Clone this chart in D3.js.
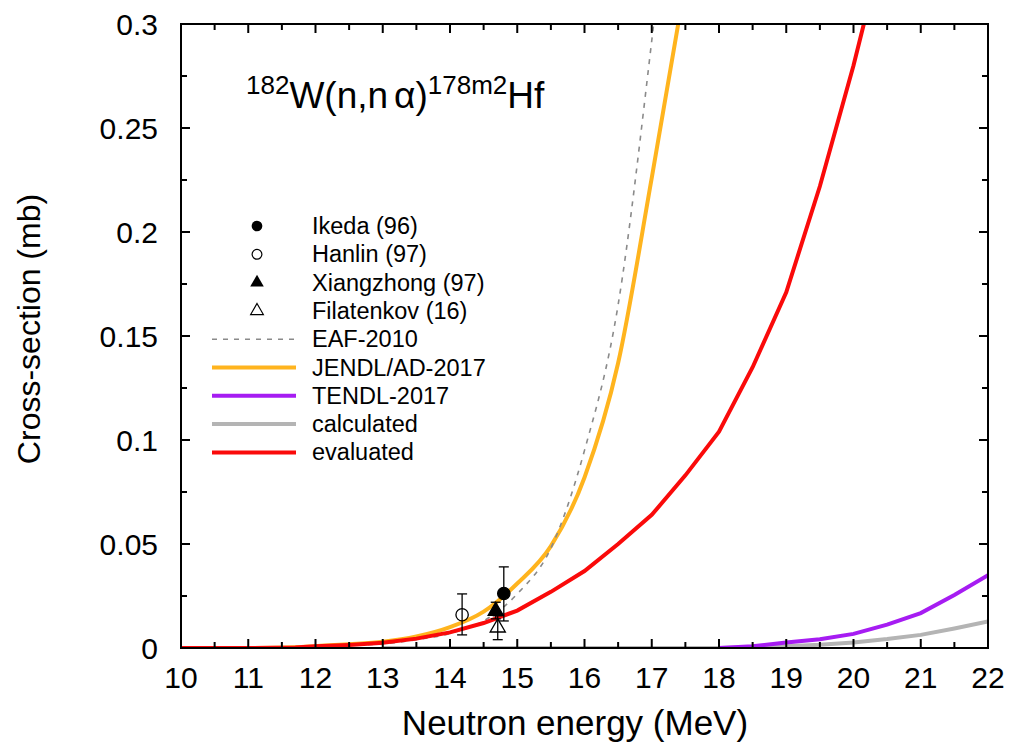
<!DOCTYPE html>
<html>
<head>
<meta charset="utf-8">
<script src="https://cdn.jsdelivr.net/npm/d3@7"></script>
<style>
  html, body { margin: 0; padding: 0; background: #fff; }
  svg { display: block; }
  text { font-family: "Liberation Sans", Arial, sans-serif; fill: #000; }
</style>
</head>
<body>
<svg id="chart" width="1009" height="756"></svg>
<script>
// Cross-sections (mb) against neutron energy (MeV) for each library / calculation
const eafE   = [10, 11, 12, 12.5, 13, 13.5, 14, 14.5, 15, 15.5, 16, 16.5, 17, 17.1];
const eafXS  = [0, 0.0001, 0.0007, 0.0013, 0.002, 0.004, 0.007, 0.013, 0.026, 0.048, 0.095, 0.165, 0.292, 0.32];

const jendlE  = [10, 11, 11.7, 12, 12.5, 13, 13.5, 14, 14.5, 15, 15.5, 16, 16.5, 17, 17.5];
const jendlXS = [0, 0, 0.0004, 0.0009, 0.0018, 0.003, 0.0055, 0.0100, 0.0175, 0.031, 0.049, 0.082, 0.137, 0.226, 0.32];

const tendlE  = [18, 18.5, 19, 19.5, 20, 20.5, 21, 21.5, 22];
const tendlXS = [0, 0.0009, 0.0026, 0.0042, 0.0068, 0.0112, 0.0168, 0.0255, 0.035];

const calcE  = [13, 18, 18.5, 19, 19.5, 20, 20.5, 21, 21.5, 22];
const calcXS = [0, 0, 0.0004, 0.0009, 0.0016, 0.0027, 0.0043, 0.0063, 0.0094, 0.0128];

const evalE  = [10, 11, 11.7, 12, 12.5, 13, 13.5, 14, 14.5, 15, 15.5, 16, 16.5, 17, 17.5, 18, 18.5, 19, 19.5, 20, 20.5];
const evalXS = [0, 0, 0.0003, 0.0008, 0.0015, 0.0025, 0.0045, 0.0075, 0.0120, 0.018, 0.027, 0.037, 0.050, 0.064, 0.083, 0.104, 0.135, 0.171, 0.222, 0.280, 0.345];

// Measured points: energy, cross-section, error-bar low / high
const ikeda      = [{e: 14.8,  v: 0.0262, lo: 0.0130, hi: 0.0390}];
const hanlin     = [{e: 14.18, v: 0.0160, lo: 0.0063, hi: 0.0260}];
const xiangzhong = [{e: 14.68, v: 0.0178, lo: 0.0140, hi: 0.0220}];
const filatenkov = [{e: 14.71, v: 0.0098, lo: 0.0040, hi: 0.0155}];

const xTicks = [10, 11, 12, 13, 14, 15, 16, 17, 18, 19, 20, 21, 22];
const yTicks = [0, 0.05, 0.1, 0.15, 0.2, 0.25, 0.3];
const yTickLabels = ["0", "0.05", "0.1", "0.15", "0.2", "0.25", "0.3"];

const legendLabels = ["Ikeda (96)", "Hanlin (97)", "Xiangzhong (97)", "Filatenkov (16)",
                      "EAF-2010", "JENDL/AD-2017", "TENDL-2017", "calculated", "evaluated"];

const svg = d3.select("#chart");
const pL = 181, pR = 988, pT = 24, pB = 648;

const x = d3.scaleLinear().domain([10, 22]).range([pL, pR]);
const y = d3.scaleLinear().domain([0, 0.3]).range([pB, pT]);

svg.append("defs").append("clipPath").attr("id", "plotClip")
  .append("rect").attr("x", pL).attr("y", pT).attr("width", pR - pL).attr("height", pB - pT);

const plot = svg.append("g").attr("clip-path", "url(#plotClip)");
const line = d3.line().x(d => x(d[0])).y(d => y(d[1]));
const smooth = d3.line().curve(d3.curveMonotoneX).x(d => x(d[0])).y(d => y(d[1]));
const zip = (a, b) => a.map((v, i) => [v, b[i]]);

const colors = { eaf: "#8a8a8a", jendl: "#ffb41e", tendl: "#a61cf2", calc: "#b4b4b4", evalc: "#fa0a0a" };

// Curves
plot.append("path").datum(zip(calcE, calcXS)).attr("d", line)
  .attr("fill", "none").attr("stroke", colors.calc).attr("stroke-width", 4);
plot.append("path").datum(zip(tendlE, tendlXS)).attr("d", line)
  .attr("fill", "none").attr("stroke", colors.tendl).attr("stroke-width", 4);
plot.append("path").datum(zip(jendlE, jendlXS)).attr("d", smooth)
  .attr("fill", "none").attr("stroke", colors.jendl).attr("stroke-width", 4);
plot.append("path").datum(zip(eafE, eafXS)).attr("d", smooth)
  .attr("fill", "none").attr("stroke", colors.eaf).attr("stroke-width", 1.6).attr("stroke-dasharray", "5,6");
plot.append("path").datum(zip(evalE, evalXS)).attr("d", line)
  .attr("fill", "none").attr("stroke", colors.evalc).attr("stroke-width", 4);

// Error bars and symbols
function errorBars(data) {
  const g = svg.append("g").attr("stroke", "#000").attr("stroke-width", 1.3);
  data.forEach(d => {
    g.append("line").attr("x1", x(d.e)).attr("x2", x(d.e)).attr("y1", y(d.lo)).attr("y2", y(d.hi));
    g.append("line").attr("x1", x(d.e) - 5).attr("x2", x(d.e) + 5).attr("y1", y(d.lo)).attr("y2", y(d.lo));
    g.append("line").attr("x1", x(d.e) - 5).attr("x2", x(d.e) + 5).attr("y1", y(d.hi)).attr("y2", y(d.hi));
  });
}
[hanlin, filatenkov, xiangzhong, ikeda].forEach(errorBars);

const circleSym = d3.symbol().type(d3.symbolCircle).size(120);
const triSym = d3.symbol().type(d3.symbolTriangle).size(100);

function drawSym(data, sym, filled) {
  svg.append("g").selectAll("path").data(data).join("path")
    .attr("d", sym)
    .attr("transform", d => `translate(${x(d.e)},${y(d.v)})`)
    .attr("fill", filled ? "#000" : "none")
    .attr("stroke", "#000").attr("stroke-width", 1.3);
}
drawSym(hanlin, circleSym, false);
drawSym(filatenkov, triSym, false);
drawSym(xiangzhong, triSym, true);
drawSym(ikeda, circleSym, true);

// Frame and ticks (inward on all four sides)
const axisG = svg.append("g");
axisG.append("rect").attr("x", pL).attr("y", pT).attr("width", pR - pL).attr("height", pB - pT)
  .attr("fill", "none").attr("stroke", "#000").attr("stroke-width", 2);

const xMinor = d3.range(10.5, 22, 1);
const yMinor = d3.range(0.025, 0.3, 0.05);
const tg = axisG.append("g").attr("stroke", "#000").attr("stroke-width", 2);
xTicks.concat(xMinor).forEach((t, i) => {
  const len = i < xTicks.length ? 9 : 6;
  tg.append("line").attr("x1", x(t)).attr("x2", x(t)).attr("y1", pB).attr("y2", pB - len);
  tg.append("line").attr("x1", x(t)).attr("x2", x(t)).attr("y1", pT).attr("y2", pT + len);
});
yTicks.concat(yMinor).forEach((t, i) => {
  const len = i < yTicks.length ? 9 : 6;
  tg.append("line").attr("y1", y(t)).attr("y2", y(t)).attr("x1", pL).attr("x2", pL + len);
  tg.append("line").attr("y1", y(t)).attr("y2", y(t)).attr("x1", pR).attr("x2", pR - len);
});

// Tick labels
axisG.selectAll("text.xt").data(xTicks).join("text").attr("class", "xt")
  .attr("x", d => x(d)).attr("y", pB + 40).attr("text-anchor", "middle")
  .style("font-size", "30px").text(d => d);
axisG.selectAll("text.yt").data(yTicks).join("text").attr("class", "yt")
  .attr("x", pL - 23).attr("y", d => y(d) + 11).attr("text-anchor", "end")
  .style("font-size", "30px").text((d, i) => yTickLabels[i]);

// Axis titles
svg.append("text").attr("x", 575).attr("y", 735).attr("text-anchor", "middle")
  .style("font-size", "35px").text("Neutron energy (MeV)");
svg.append("text").attr("transform", `translate(40,329) rotate(-90)`)
  .attr("text-anchor", "middle").style("font-size", "32px").text("Cross-section (mb)");

// Reaction label
const title = svg.append("text").attr("x", 246).attr("y", 108).style("font-size", "37px");
title.append("tspan").attr("dy", -14).style("font-size", "26px").text("182");
title.append("tspan").attr("dy", 14).text("W(n,n");
title.append("tspan").attr("dx", 6).text("\u03b1");
title.append("tspan").text(")");
title.append("tspan").attr("dy", -14).style("font-size", "26px").text("178m2");
title.append("tspan").attr("dy", 14).text("Hf");

// Legend
const legY0 = 226, legDy = 28.3;
const leg = svg.append("g");
legendLabels.forEach((lab, i) => {
  leg.append("text").attr("x", 312).attr("y", legY0 + i * legDy + 8).style("font-size", "23.5px").text(lab);
});
const lx = 257;
leg.append("path").attr("d", d3.symbol().type(d3.symbolCircle).size(90)())
  .attr("transform", `translate(${lx},${legY0})`).attr("fill", "#000");
leg.append("path").attr("d", d3.symbol().type(d3.symbolCircle).size(75)())
  .attr("transform", `translate(${lx},${legY0 + legDy})`).attr("fill", "none").attr("stroke", "#000").attr("stroke-width", 1.2);
leg.append("path").attr("d", d3.symbol().type(d3.symbolTriangle).size(80)())
  .attr("transform", `translate(${lx},${legY0 + 2 * legDy})`).attr("fill", "#000");
leg.append("path").attr("d", d3.symbol().type(d3.symbolTriangle).size(70)())
  .attr("transform", `translate(${lx},${legY0 + 3 * legDy})`).attr("fill", "none").attr("stroke", "#000").attr("stroke-width", 1.2);
const legLines = [
  { c: colors.eaf, w: 1.6, dash: "5,6" },
  { c: colors.jendl, w: 4 },
  { c: colors.tendl, w: 4 },
  { c: colors.calc, w: 4 },
  { c: colors.evalc, w: 4 }
];
legLines.forEach((s, i) => {
  const yy = legY0 + (i + 4) * legDy;
  leg.append("line").attr("x1", 212).attr("x2", 296).attr("y1", yy).attr("y2", yy)
    .attr("stroke", s.c).attr("stroke-width", s.w).attr("stroke-dasharray", s.dash || null);
});
</script>
</body>
</html>
